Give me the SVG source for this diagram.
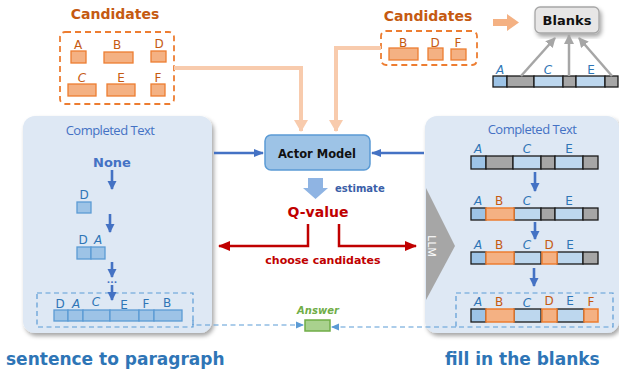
<svg xmlns="http://www.w3.org/2000/svg" width="619" height="379" viewBox="0 0 619 379">
<defs>
<style>
.comic{font-family:"DejaVu Sans","Liberation Sans",sans-serif;font-weight:bold}
.orT{fill:#c55a11;font-size:14px}
.orL{fill:#c55a11;font-size:12px;font-weight:normal}
.bl{fill:#2e75b6;font-size:12px;font-weight:normal;font-style:italic}
.blN{fill:#2e75b6;font-size:12px;font-weight:normal}
.ct{font-family:"Open Sans","Liberation Sans",sans-serif;fill:#4472c4;font-size:13px;letter-spacing:-0.5px}
.cand{fill:#f4b183;stroke:#ed7d31;stroke-width:1.3}
.lb{fill:#9dc3e6;stroke:#5b9bd5;stroke-width:1.3}
.seg{stroke:#1a1a1a;stroke-width:1.3}
.pA{fill:#9dc3e6}
.pB{fill:#bdd7ee}
.pG{fill:#a6a6a6}
.pO{fill:#f4b183;stroke:#ed7d31;stroke-width:1.5}
.dashO{fill:none;stroke:#ed7d31;stroke-width:1.8;stroke-dasharray:6,4}
.dashB{fill:none;stroke:#5b9bd5;stroke-width:1.2;stroke-dasharray:5,3.5}
.panel{fill:#dee8f4}
.barrow{stroke:#4472c4;stroke-width:2.6;fill:none}
</style>
<marker id="mB" markerWidth="10" markerHeight="10" refX="8" refY="5" orient="auto" markerUnits="userSpaceOnUse"><path d="M0,0.5 L9,5 L0,9.5 z" fill="#4472c4"/></marker>
<marker id="mBlue" markerWidth="10" markerHeight="10" refX="9" refY="5" orient="auto" markerUnits="userSpaceOnUse"><path d="M0,1 L10,5 L0,9 z" fill="#4472c4"/></marker>
<marker id="mR" markerWidth="12" markerHeight="12" refX="11" refY="6" orient="auto" markerUnits="userSpaceOnUse"><path d="M0,1 L12,6 L0,11 z" fill="#c00000"/></marker>
<marker id="mO" markerWidth="12" markerHeight="14" refX="11" refY="7" orient="auto" markerUnits="userSpaceOnUse"><path d="M0,0 L12,7 L0,14 z" fill="#f8cbad"/></marker>
<marker id="mG" markerWidth="10" markerHeight="10" refX="9" refY="5" orient="auto" markerUnits="userSpaceOnUse"><path d="M0,0 L10,5 L0,10 z" fill="#a6a6a6"/></marker>
<marker id="mD" markerWidth="8" markerHeight="8" refX="7" refY="4" orient="auto" markerUnits="userSpaceOnUse"><path d="M0,0.5 L8,4 L0,7.5 z" fill="#5b9bd5"/></marker>
<filter id="sh" x="-10%" y="-10%" width="130%" height="130%"><feDropShadow dx="2" dy="3" stdDeviation="2" flood-color="#000" flood-opacity="0.35"/></filter>
</defs>

<g id="left-panel">
<rect class="panel" x="23" y="116" width="189" height="217" rx="12" filter="url(#sh)"/>
<text class="ct" x="110" y="135" text-anchor="middle">Completed Text</text>
<text class="comic" x="112" y="167" text-anchor="middle" fill="#4472c4" font-size="13">None</text>
<text class="comic blN" x="84" y="199" text-anchor="middle">D</text>
<rect class="lb" x="77" y="202" width="14" height="11"/>
<text class="comic blN" x="83" y="244" text-anchor="middle">D</text>
<text class="comic bl" x="98" y="244" text-anchor="middle">A</text>
<rect class="lb" x="77" y="247" width="14" height="12"/>
<rect class="lb" x="91" y="247" width="14" height="12"/>
<text class="comic" x="112" y="283" text-anchor="middle" fill="#4472c4" font-size="9">...</text>
<rect class="dashB" x="37" y="293" width="156" height="34"/>
<g class="lb"><rect x="54" y="310" width="14" height="11"/><rect x="68" y="310" width="15" height="11"/><rect x="83" y="310" width="27" height="11"/><rect x="110" y="310" width="29" height="11"/><rect x="139" y="310" width="15" height="11"/><rect x="154" y="310" width="28" height="11"/></g>
<g class="comic" text-anchor="middle"><text class="blN" x="60" y="308">D</text><text class="bl" x="76" y="308">A</text><text class="bl" x="96" y="306">C</text><text class="blN" x="124" y="309">E</text><text class="blN" x="146" y="308">F</text><text class="blN" x="167" y="307">B</text></g>
</g>

<g id="right-panel">
<rect class="panel" x="425" y="116" width="194" height="217" rx="12" filter="url(#sh)"/>
<text class="ct" x="532" y="134" text-anchor="middle">Completed Text</text>
<g id="llm">
<path d="M426,188 L455,246 L426,300 z" fill="#a6a6a6"/>
<text x="432" y="246" transform="rotate(90 432 246)" text-anchor="middle" dominant-baseline="central" font-family="Liberation Sans,sans-serif" font-size="11" fill="#ffffff">LLM</text>
</g>
<g class="seg"><rect class="pA" x="471" y="156" width="15" height="13"/><rect class="pG" x="486" y="156" width="27" height="13"/><rect class="pB" x="513" y="156" width="28" height="13"/><rect class="pG" x="541" y="156" width="14" height="13"/><rect class="pB" x="555" y="156" width="28" height="13"/><rect class="pG" x="583" y="156" width="15" height="13"/></g>
<g class="comic" text-anchor="middle"><text class="bl" x="478" y="153">A</text><text class="bl" x="527" y="153">C</text><text class="blN" x="569" y="153">E</text></g>
<g class="seg"><rect class="pA" x="471" y="208" width="15" height="12"/><rect class="pB" x="514" y="208" width="27" height="12"/><rect class="pG" x="541" y="208" width="14" height="12"/><rect class="pB" x="555" y="208" width="28" height="12"/><rect class="pG" x="583" y="208" width="15" height="12"/></g>
<rect class="pO" x="486" y="208" width="28" height="12"/>
<g class="comic" text-anchor="middle"><text class="bl" x="478" y="205">A</text><text class="orL" x="499" y="205">B</text><text class="bl" x="527" y="205">C</text><text class="blN" x="569" y="205">E</text></g>
<g class="seg"><rect class="pA" x="471" y="252" width="15" height="12"/><rect class="pB" x="514" y="252" width="27" height="12"/><rect class="pB" x="557" y="252" width="26" height="12"/><rect class="pG" x="583" y="252" width="15" height="12"/></g>
<rect class="pO" x="486" y="252" width="28" height="12"/>
<rect class="pO" x="542" y="252" width="15" height="12"/>
<g class="comic" text-anchor="middle"><text class="bl" x="478" y="249">A</text><text class="orL" x="499" y="249">B</text><text class="bl" x="527" y="249">C</text><text class="orL" x="549" y="249">D</text><text class="blN" x="570" y="249">E</text></g>
<rect class="dashB" x="456" y="293" width="157" height="34"/>
<g class="seg"><rect class="pA" x="471" y="309" width="15" height="13"/><rect class="pB" x="514" y="309" width="27" height="13"/><rect class="pB" x="557" y="309" width="27" height="13"/></g>
<rect class="pO" x="486" y="309" width="28" height="13"/>
<rect class="pO" x="542" y="309" width="15" height="13"/>
<rect class="pO" x="584" y="309" width="14" height="13"/>
<g class="comic" text-anchor="middle"><text class="bl" x="478" y="306">A</text><text class="orL" x="499" y="306">B</text><text class="bl" x="527" y="307">C</text><text class="orL" x="549" y="305">D</text><text class="blN" x="570" y="305">E</text><text class="orL" x="591" y="306">F</text></g>
</g>

<g id="candidates-left">
<text class="comic orT" x="115" y="19" text-anchor="middle">Candidates</text>
<rect class="dashO" x="60" y="32" width="114" height="72" rx="5"/>
<rect class="cand" x="71" y="51" width="15" height="12"/><rect class="cand" x="104" y="52" width="29" height="11"/><rect class="cand" x="151" y="51" width="15" height="11"/>
<rect class="cand" x="68" y="84" width="28" height="12"/><rect class="cand" x="107" y="84" width="28" height="12"/><rect class="cand" x="151" y="84" width="14" height="12"/>
<g class="comic" text-anchor="middle"><text class="orL" x="78" y="49">A</text><text class="orL" x="117" y="49">B</text><text class="orL" x="159" y="48">D</text><text class="orL" x="82" y="82" font-style="italic">C</text><text class="orL" x="121" y="82">E</text><text class="orL" x="158" y="82">F</text></g>
</g>

<g id="candidates-right">
<text class="comic orT" x="428" y="21" text-anchor="middle">Candidates</text>
<rect class="dashO" x="381" y="31" width="96" height="34" rx="5"/>
<rect class="cand" x="389" y="48" width="29" height="12"/><rect class="cand" x="428" y="48" width="15" height="12"/><rect class="cand" x="451" y="49" width="15" height="11"/>
<g class="comic" text-anchor="middle"><text class="orL" x="403" y="47">B</text><text class="orL" x="435" y="47">D</text><text class="orL" x="458" y="47">F</text></g>
</g>

<g id="blanks">
<rect x="535" y="7" width="64" height="26" rx="5" fill="#e7e6e6" stroke="#a6a6a6" stroke-width="1.3" filter="url(#sh)"/>
<text class="comic" x="567" y="25" text-anchor="middle" font-size="13" fill="#111">Blanks</text>
</g>

<g id="blank-bar">
<g class="seg"><rect class="pA" x="493" y="76" width="14" height="11"/><rect class="pG" x="507" y="76" width="27" height="11"/><rect class="pB" x="534" y="76" width="29" height="11"/><rect class="pG" x="563" y="76" width="13" height="11"/><rect class="pB" x="576" y="76" width="29" height="11"/><rect class="pG" x="605" y="76" width="13" height="11"/></g>
<g class="comic" text-anchor="middle"><text class="bl" x="500" y="74">A</text><text class="bl" x="548" y="74">C</text><text class="blN" x="591" y="74">E</text></g>
</g>

<g id="actor-model">
<rect x="265" y="135" width="105" height="35" rx="6" fill="#9dc3e6" stroke="#5b9bd5" stroke-width="1.5"/>
<text class="comic" x="317" y="158" text-anchor="middle" font-size="11.5" fill="#111">Actor Model</text>
</g>

<g id="q-value">
<text class="comic" x="318" y="217" text-anchor="middle" font-size="14" fill="#c00000">Q-value</text>
</g>

<g id="answer">
<text class="comic" x="318" y="314" text-anchor="middle" font-size="10" font-style="italic" fill="#70ad47">Answer</text>
<rect x="305" y="320" width="25" height="11" fill="#a9d18e" stroke="#70ad47" stroke-width="1.5"/>
</g>

<g id="labels">
<text class="comic" x="6" y="365" font-size="17" fill="#2e75b6">sentence to paragraph</text>
<text class="comic" x="445" y="365" font-size="17" fill="#2e75b6">fill in the blanks</text>
<text class="comic" x="335" y="192" font-size="10" fill="#3a5ea8">estimate</text>
<text class="comic" x="323" y="264" text-anchor="middle" font-size="11" fill="#c00000">choose candidates</text>
</g>

<g id="connectors">
<polyline points="174,68 301,68 301,131" fill="none" stroke="#f8cbad" stroke-width="4" marker-end="url(#mO)"/>
<polyline points="381,48 336,48 336,131" fill="none" stroke="#f8cbad" stroke-width="4" marker-end="url(#mO)"/>
<path d="M493,19 L507,19 L507,14 L519,22.5 L507,31 L507,26 L493,26 z" fill="#f4b183"/>
<line x1="521" y1="76" x2="555" y2="38" stroke="#a6a6a6" stroke-width="2.5" marker-end="url(#mG)"/>
<line x1="569" y1="76" x2="569" y2="35" stroke="#a6a6a6" stroke-width="2.5" marker-end="url(#mG)"/>
<line x1="612" y1="76" x2="579" y2="38" stroke="#a6a6a6" stroke-width="2.5" marker-end="url(#mG)"/>
<line x1="214" y1="153" x2="263" y2="153" stroke="#4472c4" stroke-width="2.5" marker-end="url(#mBlue)"/>
<line x1="424" y1="153" x2="372" y2="153" stroke="#4472c4" stroke-width="2.5" marker-end="url(#mBlue)"/>
<path d="M308,178 L323,178 L323,188 L328,188 L315.5,199 L303,188 L308,188 z" fill="#8fb4e3"/>
<polyline points="308,224 308,246 219,246" fill="none" stroke="#c00000" stroke-width="2.5" marker-end="url(#mR)"/>
<polyline points="339,224 339,246 416,246" fill="none" stroke="#c00000" stroke-width="2.5" marker-end="url(#mR)"/>
<line class="barrow" x1="112" y1="170" x2="112" y2="189" marker-end="url(#mB)"/>
<line class="barrow" x1="110" y1="214" x2="110" y2="232" marker-end="url(#mB)"/>
<line class="barrow" x1="112" y1="262" x2="112" y2="277" marker-end="url(#mB)"/>
<line class="barrow" x1="112" y1="285" x2="112" y2="300" marker-end="url(#mB)"/>
<line class="barrow" x1="535" y1="172" x2="535" y2="191" marker-end="url(#mB)"/>
<line class="barrow" x1="535" y1="222" x2="535" y2="239" marker-end="url(#mB)"/>
<line class="barrow" x1="534" y1="268" x2="534" y2="286" marker-end="url(#mB)"/>
<polyline points="193,320 193,325 303,325" fill="none" stroke="#5b9bd5" stroke-width="1.2" stroke-dasharray="5,3.5" marker-end="url(#mD)"/>
<line x1="456" y1="327" x2="332" y2="327" stroke="#5b9bd5" stroke-width="1.2" stroke-dasharray="5,3.5" marker-end="url(#mD)"/>
</g>
</svg>
